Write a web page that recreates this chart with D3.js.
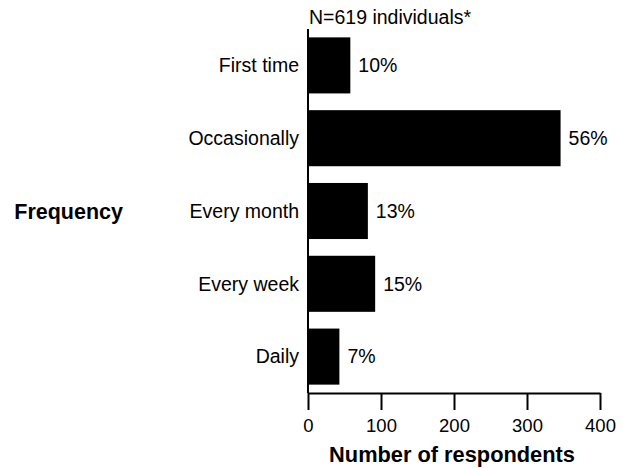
<!DOCTYPE html>
<html>
<head>
<meta charset="utf-8">
<script src="https://cdn.jsdelivr.net/npm/d3@7"></script>
<style>
  body { margin: 0; background: #fff; }
  text { font-family: "Liberation Sans", Arial, sans-serif; fill: #000; }
</style>
</head>
<body>
<div id="chart"></div>
<script>
// categories, counts and printed percentages
var categories = ["First time", "Occasionally", "Every month", "Every week", "Daily"];
var counts = [58, 346, 82, 92, 43];
var percents = ["10%", "56%", "13%", "15%", "7%"];
var xTicks = [0, 100, 200, 300, 400];

var width = 623, height = 468;
var x0 = 308, x1 = 600, yTop = 29, yBottom = 393;

var svg = d3.select("#chart").append("svg")
  .attr("width", width)
  .attr("height", height);

var x = d3.scaleLinear().domain([0, 400]).range([x0, x1]);

var y = d3.scaleBand()
  .domain(categories)
  .range([yTop, yBottom])
  .paddingInner(0.23)
  .paddingOuter(0.115);

// bars
svg.append("g").selectAll("rect")
  .data(categories)
  .enter().append("rect")
  .attr("x", x(0))
  .attr("y", function(d) { return y(d); })
  .attr("width", function(d, i) { return x(counts[i]) - x(0); })
  .attr("height", y.bandwidth())
  .attr("fill", "#000");

// percent labels
svg.append("g").selectAll("text")
  .data(categories)
  .enter().append("text")
  .attr("x", function(d, i) { return x(counts[i]) + 8; })
  .attr("y", function(d) { return y(d) + y.bandwidth() / 2; })
  .attr("dy", "0.35em")
  .style("font-size", "19.5px")
  .text(function(d, i) { return percents[i]; });

// category labels
svg.append("g").selectAll("text")
  .data(categories)
  .enter().append("text")
  .attr("x", x0 - 9)
  .attr("y", function(d) { return y(d) + y.bandwidth() / 2; })
  .attr("dy", "0.35em")
  .attr("text-anchor", "end")
  .style("font-size", "19.5px")
  .text(function(d) { return d; });

// y axis line (no ticks)
svg.append("line")
  .attr("x1", x0).attr("x2", x0)
  .attr("y1", yTop).attr("y2", yBottom)
  .attr("stroke", "#000")
  .attr("stroke-width", 2);

// x axis
var xAxis = svg.append("g")
  .attr("transform", "translate(0," + yBottom + ")")
  .call(d3.axisBottom(x).tickValues(xTicks).tickSize(17).tickSizeOuter(0).tickPadding(9));

xAxis.select(".domain").attr("stroke-width", 2);
xAxis.selectAll(".tick line").attr("stroke-width", 2);
xAxis.selectAll(".tick text")
  .style("font-size", "18.5px")
  .style("font-family", "'Liberation Sans', Arial, sans-serif");

// titles
svg.append("text")
  .attr("x", 309)
  .attr("y", 24)
  .style("font-size", "19.5px")
  .text("N=619 individuals*");

svg.append("text")
  .attr("x", 452)
  .attr("y", 462)
  .attr("text-anchor", "middle")
  .style("font-size", "21.8px")
  .style("font-weight", "bold")
  .text("Number of respondents");

svg.append("text")
  .attr("x", 123)
  .attr("y", y("Every month") + y.bandwidth() / 2)
  .attr("dy", "0.35em")
  .attr("text-anchor", "end")
  .style("font-size", "21.5px")
  .style("font-weight", "bold")
  .text("Frequency");
</script>
</body>
</html>
